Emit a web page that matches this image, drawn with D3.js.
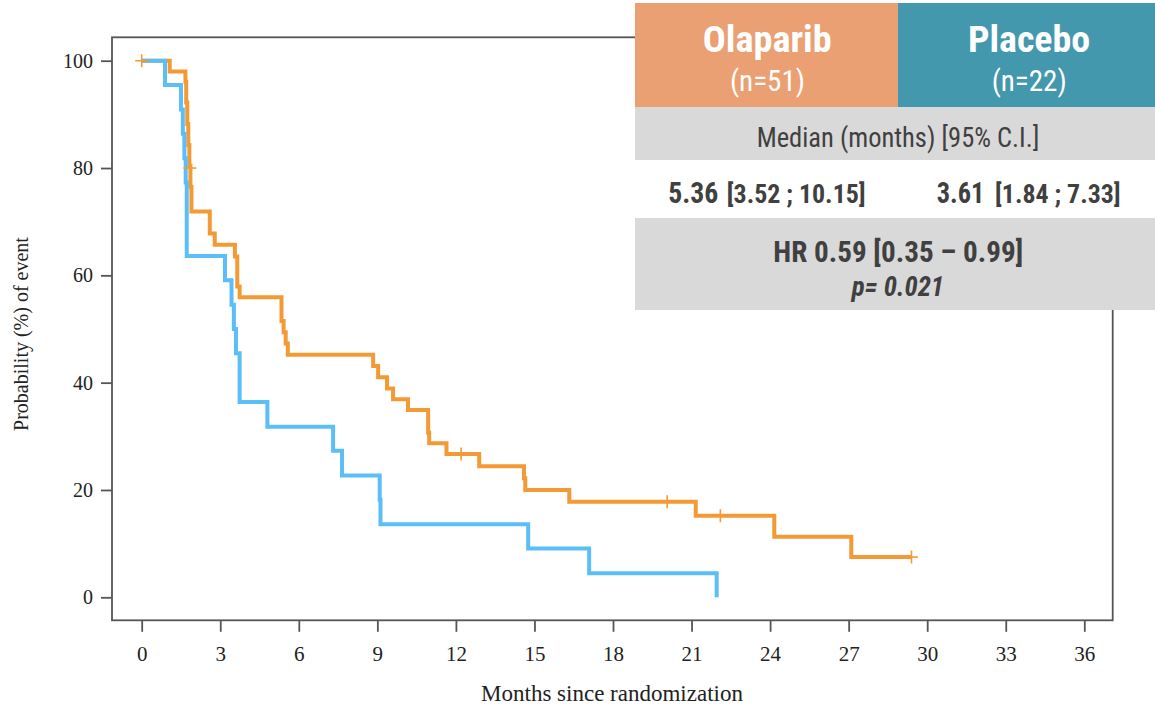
<!DOCTYPE html>
<html>
  <head>
    <script type="text/javascript" src="https://d3js.org/d3.v7.min.js"></script>
    <style>
      body { margin: 0; background: #fff; }
      .axis text { font-family: "Liberation Serif", "Times New Roman", serif; fill: #222; }
      .axis line { stroke: #555; stroke-width: 1.8; }
      .tbl { font-family: "Liberation Sans Narrow", "Roboto Condensed", Roboto, sans-serif; }
    </style>
  </head>
  <body>
  </body>
  <script>

  // Kaplan-Meier steps: [months, % without event]
  var olaTime = [0, 1.07, 1.67, 1.70, 1.74, 1.78, 1.82, 1.86, 1.90, 2.60, 2.79, 3.56, 3.65, 3.74,
                 5.34, 5.42, 5.50, 5.58, 8.84, 9.03, 9.37, 9.60, 10.17, 10.94, 10.98, 11.64,
                 12.89, 14.60, 14.65, 16.33, 21.16, 24.16, 27.10, 29.40];
  var olaSurv = [100, 98.0, 96.1, 92.2, 88.2, 84.3, 80.4, 76.5, 71.9, 67.8, 65.7, 63.5, 57.9, 55.9,
                 51.5, 49.4, 47.3, 45.2, 43.1, 41.0, 38.9, 36.9, 34.9, 30.7, 28.7, 26.7,
                 24.4, 22.2, 20.0, 17.8, 15.2, 11.3, 7.5, 7.5];
  var olaCensorTime = [0, 1.84, 12.2, 20.07, 22.1, 29.4];
  var olaCensorSurv = [100, 80.0, 26.7, 17.8, 15.2, 7.5];

  var plaTime = [0, 0.89, 1.50, 1.57, 1.63, 1.68, 1.72, 3.18, 3.43, 3.52, 3.60, 3.74, 4.80,
                 7.31, 7.65, 9.09, 9.12, 14.76, 17.09, 21.96];
  var plaSurv = [100, 95.45, 90.9, 86.4, 81.8, 77.3, 63.6, 59.1, 54.5, 50.0, 45.5, 36.4, 31.8,
                 27.3, 22.7, 18.2, 13.6, 9.1, 4.5, 0];

  var xTicks = [0, 3, 6, 9, 12, 15, 18, 21, 24, 27, 30, 33, 36];
  var yTicks = [0, 20, 40, 60, 80, 100];

  var svg = d3.select("body").append("svg")
              .attr("width", 1155)
              .attr("height", 705);

  var x = d3.scaleLinear().domain([0, 36]).range([141.7, 1084.3]);
  var y = d3.scaleLinear().domain([0, 100]).range([597.3, 60.7]);

  // frame
  svg.append("rect")
     .attr("x", 112).attr("y", 37.3)
     .attr("width", 1000.7).attr("height", 583)
     .attr("fill", "none").attr("stroke", "#555").attr("stroke-width", 1.8);

  var yAxis = svg.append("g").attr("class", "axis")
                 .attr("transform", "translate(112,0)")
                 .call(d3.axisLeft(y).tickValues(yTicks).tickSize(11).tickPadding(8).tickSizeOuter(0));
  yAxis.select(".domain").remove();
  yAxis.selectAll("text").style("font-size", "20px");

  var xAxis = svg.append("g").attr("class", "axis")
                 .attr("transform", "translate(0,620.3)")
                 .call(d3.axisBottom(x).tickValues(xTicks).tickSize(11.5).tickPadding(14).tickSizeOuter(0));
  xAxis.select(".domain").remove();
  xAxis.selectAll("text").style("font-size", "21px");

  svg.append("text")
     .attr("x", 612).attr("y", 701)
     .attr("text-anchor", "middle")
     .style("font-family", "Liberation Serif, serif")
     .style("font-size", "23px").style("fill", "#222")
     .text("Months since randomization");

  svg.append("text")
     .attr("transform", "translate(28,334) rotate(-90)")
     .attr("text-anchor", "middle")
     .style("font-family", "Liberation Serif, serif")
     .style("font-size", "20px").style("fill", "#222")
     .text("Probability (%) of event");

  // curves
  var line = d3.line()
               .x(function(d) { return x(d[0]); })
               .y(function(d) { return y(d[1]); })
               .curve(d3.curveStepAfter);

  var ola = olaTime.map(function(t, i) { return [t, olaSurv[i]]; });
  var pla = plaTime.map(function(t, i) { return [t, plaSurv[i]]; });

  svg.append("path").datum(ola)
     .attr("d", line).attr("fill", "none")
     .attr("stroke", "#f39a36").attr("stroke-width", 4);

  svg.append("path").datum(pla)
     .attr("d", line).attr("fill", "none")
     .attr("stroke", "#5bbef6").attr("stroke-width", 4);

  var cens = svg.selectAll("g.cens")
                .data(olaCensorTime.map(function(t, i) { return [t, olaCensorSurv[i]]; }))
                .enter().append("g")
                .attr("class", "cens")
                .attr("transform", function(d) { return "translate(" + x(d[0]) + "," + y(d[1]) + ")"; });
  cens.append("line").attr("x1", -6.5).attr("x2", 6.5).attr("y1", 0).attr("y2", 0);
  cens.append("line").attr("x1", 0).attr("x2", 0).attr("y1", -6.5).attr("y2", 6.5);
  cens.selectAll("line").attr("stroke", "#f39a36").attr("stroke-width", 1.6);

  // results table
  var tbl = svg.append("g").attr("class", "tbl");
  tbl.append("rect").attr("x", 635).attr("y", 3).attr("width", 263).attr("height", 104).attr("fill", "#eaa073");
  tbl.append("rect").attr("x", 898).attr("y", 3).attr("width", 257).attr("height", 104).attr("fill", "#4398ad");
  tbl.append("rect").attr("x", 635).attr("y", 107).attr("width", 520).attr("height", 53).attr("fill", "#d9d9d9");
  tbl.append("rect").attr("x", 635).attr("y", 160).attr("width", 520).attr("height", 58).attr("fill", "#ffffff");
  tbl.append("rect").attr("x", 635).attr("y", 218).attr("width", 520).attr("height", 92).attr("fill", "#d9d9d9");

  function txt(s, x0, w, base, size, weight, color, style) {
    tbl.append("text")
       .attr("x", x0).attr("y", base)
       .attr("textLength", w).attr("lengthAdjust", "spacingAndGlyphs")
       .style("font-size", size + "px")
       .style("font-weight", weight)
       .style("font-style", style || "normal")
       .style("fill", color)
       .text(s);
  }

  txt("Olaparib", 702.7, 129, 51.7, 36, "bold", "#fff");
  txt("(n=51)", 730, 75, 90.7, 29, "normal", "#fff");
  txt("Placebo", 968, 122, 51.7, 36, "bold", "#fff");
  txt("(n=22)", 991.7, 75, 90.7, 29, "normal", "#fff");
  txt("Median (months) [95% C.I.]", 756.7, 282.6, 146.7, 27, "normal", "#404040");
  txt("5.36", 668.3, 50, 203.3, 30, "bold", "#404040");
  txt("[3.52 ; 10.15]", 726.7, 139, 203.3, 25, "bold", "#404040");
  txt("3.61", 936.7, 47.6, 203.3, 30, "bold", "#404040");
  txt("[1.84 ; 7.33]", 995, 125.7, 203.3, 25, "bold", "#404040");
  txt("HR 0.59 [0.35 \u2013 0.99]", 773.3, 250, 261.7, 30, "bold", "#404040");
  txt("p= 0.021", 851.7, 92.3, 296, 27, "bold", "#404040", "italic");

  </script>
</html>
